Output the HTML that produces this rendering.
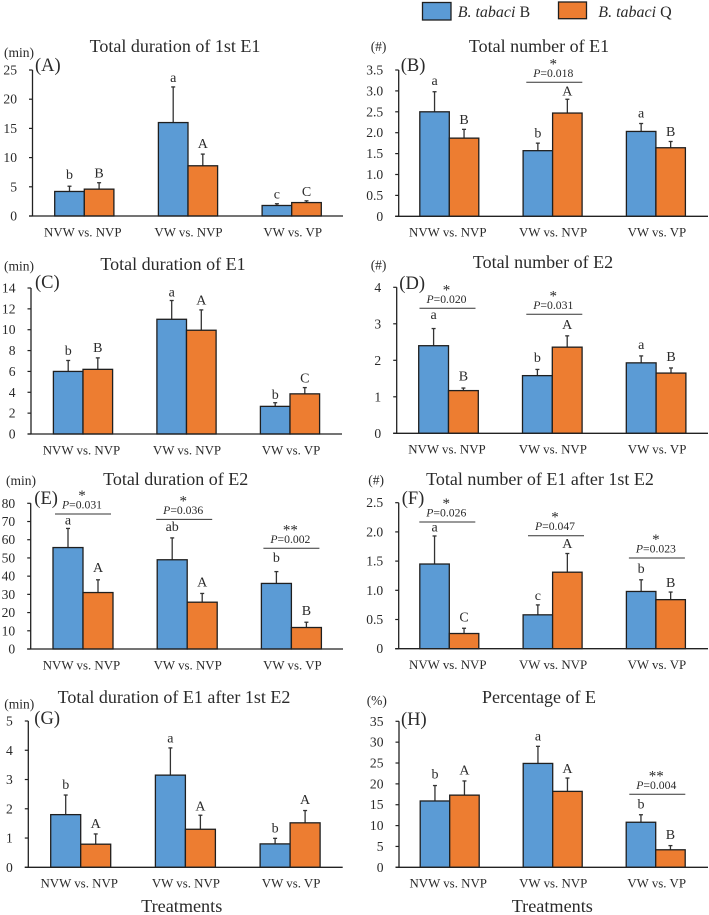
<!DOCTYPE html>
<html lang="en">
<head>
<meta charset="utf-8">
<title>Bemisia tabaci EPG parameters</title>
<style>
html,body{margin:0;padding:0;background:#fff;}
svg{display:block;font-family:"Liberation Serif",serif;fill:#222;filter:blur(0.3px);}
text{fill:#2a2a2a;}
</style>
</head>
<body>
<svg id="chart" xmlns="http://www.w3.org/2000/svg" width="709" height="915" viewBox="0 0 709 915">
  <g>
    <rect x="422.5" y="2.5" width="28.5" height="17.5" fill="#5b9bd5" stroke="#1f1f1f" stroke-width="1.3"/>
    <text x="457.7" y="17" font-size="16"><tspan font-style="italic">B. tabaci</tspan> B</text>
    <rect x="558.5" y="2" width="28" height="16.7" fill="#ed7d31" stroke="#1f1f1f" stroke-width="1.3"/>
    <text x="598.3" y="17" font-size="16"><tspan font-style="italic">B. tabaci</tspan> Q</text>
  </g>
  <text x="181.7" y="912" font-size="18.2" text-anchor="middle">Treatments</text>
  <text x="552.3" y="912" font-size="18.2" text-anchor="middle">Treatments</text>
</svg>
<script>
const categories = ['NVW vs. NVP', 'VW vs. NVP', 'VW vs. VP'];

const aTicks = ['0', '5', '10', '15', '20', '25'];
const aSeriesB = [4.2, 16.0, 1.8];
const aSeriesQ = [4.6, 8.6, 2.3];
const aErrorB = [0.9, 6.1, 0.3];
const aErrorQ = [1.1, 2.0, 0.3];
const aLettersB = ['b', 'a', 'c'];
const aLettersQ = ['B', 'A', 'C'];
const aSigP = [null, null, null];
const aSigStars = [null, null, null];
const aSigLevel = [null, null, null];

const bTicks = ['0', '0.5', '1.0', '1.5', '2.0', '2.5', '3.0', '3.5'];
const bSeriesB = [2.5, 1.57, 2.03];
const bSeriesQ = [1.87, 2.47, 1.64];
const bErrorB = [0.48, 0.18, 0.19];
const bErrorQ = [0.21, 0.33, 0.15];
const bLettersB = ['a', 'b', 'a'];
const bLettersQ = ['B', 'A', 'B'];
const bSigP = [null, '0.018', null];
const bSigStars = [null, '*', null];
const bSigLevel = [null, 3.206, null];

const cTicks = ['0', '2', '4', '6', '8', '10', '12', '14'];
const cSeriesB = [6.0, 11.0, 2.65];
const cSeriesQ = [6.2, 9.95, 3.85];
const cErrorB = [1.05, 1.8, 0.35];
const cErrorQ = [1.1, 1.95, 0.6];
const cLettersB = ['b', 'a', 'b'];
const cLettersQ = ['B', 'A', 'C'];
const cSigP = [null, null, null];
const cSigStars = [null, null, null];
const cSigLevel = [null, null, null];

const dTicks = ['0', '1', '2', '3', '4'];
const dSeriesB = [2.4, 1.58, 1.93];
const dSeriesQ = [1.17, 2.36, 1.65];
const dErrorB = [0.47, 0.17, 0.19];
const dErrorQ = [0.07, 0.31, 0.14];
const dLettersB = ['a', 'b', 'a'];
const dLettersQ = ['B', 'A', 'B'];
const dSigP = ['0.020', '0.031', null];
const dSigStars = ['*', '*', null];
const dSigLevel = [3.425, 3.26, null];

const eTicks = ['0', '10', '20', '30', '40', '50', '60', '70', '80'];
const eSeriesB = [55.7, 49.0, 36.0];
const eSeriesQ = [31.0, 25.7, 11.8];
const eErrorB = [10.5, 12.0, 6.5];
const eErrorQ = [7.0, 4.8, 2.9];
const eLettersB = ['a', 'ab', 'b'];
const eLettersQ = ['A', 'A', 'B'];
const eSigP = ['0.031', '0.036', '0.002'];
const eSigStars = ['*', '*', '**'];
const eSigLevel = [74.1, 71.2, 55.3];

const fTicks = ['0', '0.5', '1.0', '1.5', '2.0', '2.5'];
const fSeriesB = [1.45, 0.58, 0.98];
const fSeriesQ = [0.26, 1.31, 0.84];
const fErrorB = [0.48, 0.17, 0.2];
const fErrorQ = [0.09, 0.32, 0.13];
const fLettersB = ['a', 'c', 'b'];
const fLettersQ = ['C', 'A', 'B'];
const fSigP = ['0.026', '0.047', '0.023'];
const fSigStars = ['*', '*', '*'];
const fSigLevel = [2.17, 1.935, 1.553];

const gTicks = ['0', '1', '2', '3', '4', '5'];
const gSeriesB = [1.8, 3.15, 0.8];
const gSeriesQ = [0.79, 1.3, 1.52];
const gErrorB = [0.67, 0.93, 0.19];
const gErrorQ = [0.35, 0.48, 0.42];
const gLettersB = ['b', 'a', 'b'];
const gLettersQ = ['A', 'A', 'A'];
const gSigP = [null, null, null];
const gSigStars = [null, null, null];
const gSigLevel = [null, null, null];

const hTicks = ['0', '5', '10', '15', '20', '25', '30', '35'];
const hSeriesB = [15.9, 24.9, 10.8];
const hSeriesQ = [17.3, 18.2, 4.2];
const hErrorB = [3.7, 4.1, 1.8];
const hErrorQ = [3.4, 3.2, 1.0];
const hLettersB = ['b', 'a', 'b'];
const hLettersQ = ['A', 'A', 'B'];
const hSigP = [null, null, '0.004'];
const hSigStars = [null, null, '**'];
const hSigLevel = [null, null, 17.5];

const SVG_NS = 'http://www.w3.org/2000/svg';
const chart = document.getElementById('chart');

function make(parent, tag, attrs, content) {
  const el = document.createElementNS(SVG_NS, tag);
  for (const k in attrs) el.setAttribute(k, attrs[k]);
  if (content !== undefined) el.textContent = content;
  parent.appendChild(el);
  return el;
}

const panels = [
  {id:'a', tag:'(A)', title:'Total duration of 1st E1', unit:'(min)', ticks:aTicks, sB:aSeriesB, sQ:aSeriesQ, eB:aErrorB, eQ:aErrorQ, lB:aLettersB, lQ:aLettersQ, p:aSigP, st:aSigStars, lv:aSigLevel,
   axL:32.5, axR:343, y0:216, yT:70, cx:84.3, step:103.7, bw:29.6, tx:175, ty:52, tagX:35, tagY:71, unitX:4, unitY:57,
   gapB:[7,5,5], gapQ:[5,6,5], sh:[0,0,0]},
  {id:'b', tag:'(B)', title:'Total number of E1', unit:'(#)', ticks:bTicks, sB:bSeriesB, sQ:bSeriesQ, eB:bErrorB, eQ:bErrorQ, lB:bLettersB, lQ:bLettersQ, p:bSigP, st:bSigStars, lv:bSigLevel,
   axL:398.7, axR:708, y0:216.3, yT:70, cx:449.3, step:103.3, bw:29.5, tx:539, ty:52, tagX:400.7, tagY:71, unitX:370.7, unitY:51,
   gapB:[6.5,5.7,6], gapQ:[5.3,4,5.7], sh:[0,1.7,0]},
  {id:'c', tag:'(C)', title:'Total duration of E1', unit:'(min)', ticks:cTicks, sB:cSeriesB, sQ:cSeriesQ, eB:cErrorB, eQ:cErrorQ, lB:cLettersB, lQ:cLettersQ, p:cSigP, st:cSigStars, lv:cSigLevel,
   axL:31, axR:342, y0:434, yT:288, cx:83, step:103.5, bw:29.6, tx:173, ty:270, tagX:35, tagY:288, unitX:4, unitY:270.7,
   gapB:[5.3,4,3.7], gapQ:[5.7,5.3,5], sh:[0,0,0]},
  {id:'d', tag:'(D)', title:'Total number of E2', unit:'(#)', ticks:dTicks, sB:dSeriesB, sQ:dSeriesQ, eB:dErrorB, eQ:dErrorQ, lB:dLettersB, lQ:dLettersQ, p:dSigP, st:dSigStars, lv:dSigLevel,
   axL:396.7, axR:708, y0:433.3, yT:287.3, cx:448.5, step:103.8, bw:29.8, tx:543, ty:268, tagX:399.3, tagY:289, unitX:370.7, unitY:269.3,
   gapB:[9.7,7.3,7], gapQ:[7.3,7,7], sh:[-1,2,0]},
  {id:'e', tag:'(E)', title:'Total duration of E2', unit:'(min)', ticks:eTicks, sB:eSeriesB, sQ:eSeriesQ, eB:eErrorB, eQ:eErrorQ, lB:eLettersB, lQ:eLettersQ, p:eSigP, st:eSigStars, lv:eSigLevel,
   axL:30.7, axR:343, y0:649, yT:503.3, cx:83, step:104.2, bw:30, tx:175.7, ty:485, tagX:34.3, tagY:504, unitX:6, unitY:485,
   gapB:[4,7,9.7], gapQ:[8,7,7], sh:[0,-3,0]},
  {id:'f', tag:'(F)', title:'Total number of E1 after 1st E2', unit:'(#)', ticks:fTicks, sB:fSeriesB, sQ:fSeriesQ, eB:fErrorB, eQ:fErrorQ, lB:fLettersB, lQ:fLettersQ, p:fSigP, st:fSigStars, lv:fSigLevel,
   axL:398.7, axR:708, y0:648.7, yT:502.7, cx:449.3, step:103.3, bw:29.5, tx:540, ty:485, tagX:401.7, tagY:504, unitX:368.3, unitY:484.3,
   gapB:[4.7,5,6.7], gapQ:[6.7,5.7,5.3], sh:[-2,3.4,1]},
  {id:'g', tag:'(G)', title:'Total duration of E1 after 1st E2', unit:'(min)', ticks:gTicks, sB:gSeriesB, sQ:gSeriesQ, eB:gErrorB, eQ:gErrorQ, lB:gLettersB, lQ:gLettersQ, p:gSigP, st:gSigStars, lv:gSigLevel,
   axL:28.3, axR:342.7, y0:867.3, yT:721, cx:80.7, step:104.7, bw:30, tx:174, ty:703, tagX:34.3, tagY:724, unitX:4.3, unitY:708.3,
   gapB:[6,5.3,5.7], gapQ:[5.7,4.7,6.3], sh:[0,0,0]},
  {id:'h', tag:'(H)', title:'Percentage of E', unit:'(%)', ticks:hTicks, sB:hSeriesB, sQ:hSeriesQ, eB:hErrorB, eQ:hErrorQ, lB:hLettersB, lQ:hLettersQ, p:hSigP, st:hSigStars, lv:hSigLevel,
   axL:399, axR:708, y0:867.3, yT:721.3, cx:449.7, step:103, bw:29.5, tx:539, ty:703, tagX:401, tagY:725, unitX:366.7, unitY:705,
   gapB:[7,5.7,6], gapQ:[6.3,5,6.7], sh:[0,0,1.6]}
];

const INK = '#222';
const labelShift = [-1.5, 0.5, 1];

function drawBar(g, P, yScale, i, series) {
  const isB = series === 'b';
  const val = isB ? P.sB[i] : P.sQ[i];
  const err = isB ? P.eB[i] : P.eQ[i];
  const gap = isB ? P.gapB[i] : P.gapQ[i];
  const letter = isB ? P.lB[i] : P.lQ[i];
  const cx = P.cx + i * P.step;
  const x = isB ? cx - P.bw : cx;
  const mid = x + P.bw / 2;
  const top = yScale(val);
  const capY = yScale(val + err);

  const line = make(g, 'line', {x1:mid, x2:mid, y1:top, y2:capY, stroke:'#333', 'stroke-width':1.3});
  
  

  const cap = make(g, 'line', {x1:mid - 2, x2:mid + 2, y1:capY, y2:capY, stroke:'#333', 'stroke-width':1.3});
  
  

  const rect = make(g, 'rect', {x:x, y:top, width:P.bw, height:P.y0 - top, fill:isB ? '#5b9bd5' : '#ed7d31', stroke:'#1f1f1f', 'stroke-width':1.3});
  
  

  const t = make(g, 'text', {x:mid, y:capY - gap, 'font-size':14, 'text-anchor':'middle'}, letter);
  
  
}

function drawPanel(P) {
  const g = make(chart, 'g', {});
  
  

  const yMax = parseFloat(P.ticks[P.ticks.length - 1]);
  const yScale = v => P.y0 - (v / yMax) * (P.y0 - P.yT);

  const title = make(g, 'text', {x:P.tx, y:P.ty, 'font-size':18, 'text-anchor':'middle'}, P.title);
  
  

  const tag = make(g, 'text', {x:P.tagX, y:P.tagY, 'font-size':18.5}, P.tag);
  
  

  const unit = make(g, 'text', {x:P.unitX, y:P.unitY, 'font-size':13.5}, P.unit);
  
  

  P.ticks.forEach(function (label) {
    const y = yScale(parseFloat(label));
    const tick = make(g, 'line', {x1:P.axL - 3.5, x2:P.axL, y1:y, y2:y, stroke:INK, 'stroke-width':1.2});
    
    
    const t = make(g, 'text', {x:P.axL - 15.5, y:y + 4.5, 'font-size':13.6, 'text-anchor':'end'}, label);
    
    
  });

  for (let i = 0; i < categories.length; i++) {
    drawBar(g, P, yScale, i, 'b');
    drawBar(g, P, yScale, i, 'q');

    const cl = make(g, 'text', {x:P.cx + i * P.step + labelShift[i], y:P.y0 + 20.3, 'font-size':12.9, 'text-anchor':'middle'}, categories[i]);
    
    

    if (P.lv[i] !== null) {
      const ly = yScale(P.lv[i]);
      const mid = P.cx + i * P.step + P.sh[i];
      const br = make(g, 'line', {x1:mid - 28, x2:mid + 28, y1:ly, y2:ly, stroke:'#333', 'stroke-width':1});
      
      

      const pt = make(g, 'text', {x:mid - 1, y:ly - 5.5, 'font-size':11.7, 'text-anchor':'middle'});
      
      
      make(pt, 'tspan', {'font-style':'italic'}, 'P');
      make(pt, 'tspan', {}, '=' + P.p[i]);

      const st = make(g, 'text', {x:mid - 1, y:ly - 14, 'font-size':15, 'text-anchor':'middle'}, P.st[i]);
      
      
    }
  }

  const yAxis = make(g, 'line', {x1:P.axL, x2:P.axL, y1:P.yT, y2:P.y0, stroke:INK, 'stroke-width':1.3});
  
  

  const xAxis = make(g, 'line', {x1:P.axL - 3.5, x2:P.axR, y1:P.y0, y2:P.y0, stroke:INK, 'stroke-width':1.3});
  
  
}

panels.forEach(drawPanel);
</script>
</body>
</html>
